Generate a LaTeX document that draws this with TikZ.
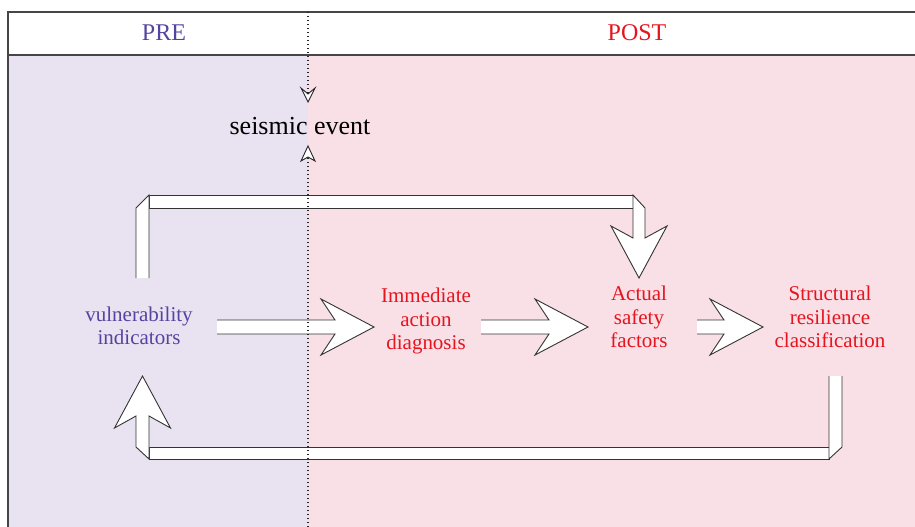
\documentclass[tikz,border=0pt]{standalone}
\usepackage{fontspec}
\setmainfont{Liberation Serif}
\usetikzlibrary{calc}
\definecolor{bgpre}{RGB}{232,226,241}
\definecolor{bgpost}{RGB}{249,223,230}
\definecolor{txtpre}{RGB}{84,68,160}
\definecolor{txtpost}{RGB}{230,20,30}
\definecolor{framec}{RGB}{70,70,70}
\begin{document}
\begin{tikzpicture}[x=1pt,y=-1pt,
  lbl/.style={align=center, font=\fontsize{21}{23.5}\selectfont, inner sep=0pt},
  prelbl/.style={lbl, text=txtpre},
  postlbl/.style={lbl, text=txtpost},
  headlbl/.style={font=\fontsize{24}{28}\selectfont, inner sep=0pt},
  bline/.style={draw=black!80, line width=0.9pt, line join=miter},
  dots/.style={draw=black!85, line width=1.3pt, dash pattern=on 1.2pt off 2.8pt},
  smalltip/.style={draw=black!85, fill=white, line width=0.9pt, line join=miter}
]
\useasboundingbox (0,0) rectangle (915,527);
\fill[white] (0,0) rectangle (915,527);
\fill[bgpre] (8,55) rectangle (308,527);
\fill[bgpost] (308,55) rectangle (915,527);
\draw[framec, line width=1.3pt] (8,527) -- (8,12) -- (915,12);
\draw[framec, line width=1.3pt] (8,55) -- (915,55);

% labels
\node[headlbl, text=txtpre] (pre) at (164,33) {PRE};
\node[headlbl, text=txtpost] (post) at (637,33) {POST};
\node[font=\fontsize{26}{30}\selectfont, inner sep=0pt] (quake) at (300,126) {seismic event};
\node[prelbl] (vuln) at (139,326) {vulnerability\\indicators};
\node[postlbl] (diag) at (426,321) {Immediate\\action\\diagnosis};
\node[postlbl] (asf) at (639,317) {Actual\\safety\\factors};
\node[postlbl] (src) at (830,317) {Structural\\resilience\\classification};

% straight block arrows
\coordinate (a1s) at (217,327); \coordinate (a1t) at (374,327);
\coordinate (a2s) at (481,327); \coordinate (a2t) at (588,327);
\coordinate (a3s) at (697,327); \coordinate (a3t) at (763,327);
\foreach \s/\t in {a1s/a1t,a2s/a2t,a3s/a3t}{
  \fill[white] ($(\s)+(0,-7)$) -- ($(\t)+(-39,-7)$) -- ($(\t)+(-53,-28)$) -- (\t) -- ($(\t)+(-53,28)$) -- ($(\t)+(-39,7)$) -- ($(\s)+(0,7)$) -- cycle;
  \draw[bline] ($(\s)+(0,-7)$) -- ($(\t)+(-39,-7)$) -- ($(\t)+(-53,-28)$) -- (\t) -- ($(\t)+(-53,28)$) -- ($(\t)+(-39,7)$) -- ($(\s)+(0,7)$);
}

% upper loop: vulnerability indicators -> actual safety factors
\coordinate (u0) at (142.5,278);
\coordinate (u1) at (142.5,201.5);
\coordinate (u2) at (639,201.5);
\coordinate (u3) at (639,278);
\filldraw[bline, fill=white] ($(u1)+(6.5,-6.5)$) rectangle ($(u2)+(-6,6.5)$);
\fill[white] ($(u0)+(-6.5,0)$) -- ($(u1)+(-6.5,6.5)$) -- ($(u1)+(6.5,-6.5)$) -- ($(u0)+(6.5,0)$) -- cycle;
\draw[bline] ($(u0)+(-6.5,0)$) -- ($(u1)+(-6.5,6.5)$) -- ($(u1)+(6.5,-6.5)$) -- ($(u0)+(6.5,0)$);
\filldraw[bline, fill=white] ($(u2)+(-6,-6.5)$) -- ($(u2)+(6,6.5)$) -- ($(u3)+(6,-40)$) -- ($(u3)+(28,-52)$) -- (u3) -- ($(u3)+(-28,-52)$) -- ($(u3)+(-6,-40)$) -- ($(u2)+(-6,6.5)$) -- cycle;

% lower loop: classification -> vulnerability indicators
\coordinate (d0) at (835.5,376);
\coordinate (d1) at (835.5,453);
\coordinate (d2) at (142.5,453);
\coordinate (d3) at (142.5,376);
\filldraw[bline, fill=white] ($(d2)+(6.5,-6)$) rectangle ($(d1)+(-6.5,6)$);
\fill[white] ($(d0)+(-6.5,0)$) -- ($(d1)+(-6.5,6)$) -- ($(d1)+(6.5,-6)$) -- ($(d0)+(6.5,0)$) -- cycle;
\draw[bline] ($(d0)+(-6.5,0)$) -- ($(d1)+(-6.5,6)$) -- ($(d1)+(6.5,-6)$) -- ($(d0)+(6.5,0)$);
\filldraw[bline, fill=white] ($(d2)+(6.5,6)$) -- ($(d2)+(-6.5,-6)$) -- ($(d3)+(-6.5,40)$) -- ($(d3)+(-28,52)$) -- (d3) -- ($(d3)+(28,52)$) -- ($(d3)+(6.5,40)$) -- cycle;

% dotted divider with seismic event arrows
\coordinate (divtop) at (308,12);
\coordinate (divbot) at (308,527);
\coordinate (qa) at (308,102);
\coordinate (qb) at (308,146);
\draw[dots] (divtop) -- ($(qa)+(0,-8)$);
\draw[dots] (divbot) -- ($(qb)+(0,11)$);
\filldraw[smalltip] (qa) -- ($(qa)+(-7,-14)$) -- ($(qa)+(0,-8)$) -- ($(qa)+(7,-14)$) -- cycle;
\filldraw[smalltip] (qb) -- ($(qb)+(-7,15)$) -- ($(qb)+(0,11)$) -- ($(qb)+(7,15)$) -- cycle;
\end{tikzpicture}
\end{document}
